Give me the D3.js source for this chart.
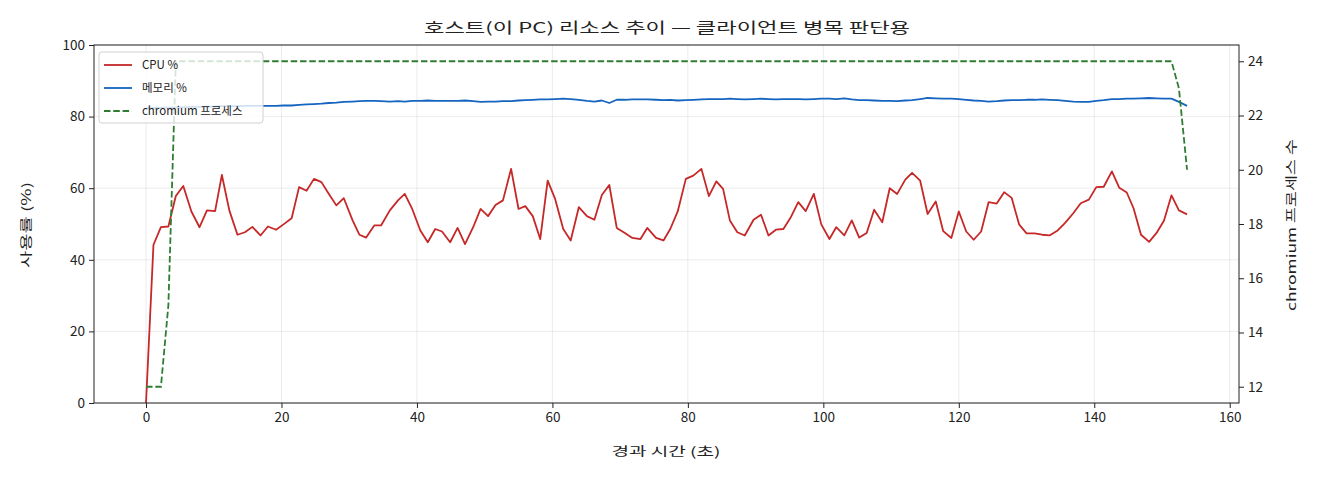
<!DOCTYPE html>
<html>
<head>
<meta charset="utf-8">
<script src="https://cdn.jsdelivr.net/npm/d3@7"></script>
<style>
  body { margin: 0; background: #fff; }
  text { font-family: "Noto Sans CJK KR", "Noto Sans", sans-serif; fill: #222; }
</style>
</head>
<body>
<div id="chart"></div>
<script>
// elapsed seconds
let elapsed = [
  0, 1.1, 2.2, 3.3, 4.4, 5.5, 6.7, 7.9, 9.0, 10.2, 11.2, 12.3, 13.5, 14.6, 15.7, 16.9, 18.0, 19.2, 20.3, 21.5, 22.6, 23.7, 24.8, 25.9, 27.0, 28.1, 29.2,
  30.5, 31.5, 32.5, 33.7, 34.7, 36.0, 37.2, 38.2, 39.3, 40.5, 41.6, 42.7, 43.7, 44.9, 46.0, 47.1, 48.3, 49.4, 50.5, 51.6, 52.7, 53.9, 55.0, 56.0, 57.1, 58.2, 59.3,
  60.4, 61.6, 62.7, 63.9, 65.1, 66.2, 67.3, 68.4, 69.5, 70.7, 71.8, 73.0, 74.0, 75.3, 76.4, 77.4, 78.5, 79.7, 80.8, 82.0, 83.1, 84.2, 85.2, 86.2, 87.3, 88.4,
  89.7, 90.8, 91.9, 93.0, 94.1, 95.2, 96.3, 97.4, 98.6, 99.7, 100.9, 101.9, 103.1, 104.2, 105.3, 106.4, 107.5, 108.7, 109.8, 110.9, 112.1, 113.1, 114.3, 115.4, 116.6, 117.7, 118.9,
  120.0, 121.1, 122.2, 123.3, 124.4, 125.6, 126.7, 127.8, 128.9, 130.0, 131.2, 132.3, 133.4, 134.6, 135.7, 136.9, 138.0, 139.2, 140.3, 141.4, 142.6, 143.7, 144.8, 145.8, 146.9, 148.1, 149.2, 150.3, 151.4, 152.5, 153.7
];

let cpuPct = [
  0, 44.2, 49.1, 49.3, 57.8, 60.6, 53.5, 49.1, 53.8, 53.6, 63.7, 53.8, 47.0, 47.7, 49.2, 46.8, 49.3, 48.4, 49.9, 51.6, 60.3, 59.3, 62.6, 61.7, 58.4, 55.2, 57.2,
  51.0, 47.0, 46.2, 49.6, 49.6, 53.8, 56.6, 58.4, 54.2, 48.2, 44.9, 48.6, 47.9, 44.9, 48.9, 44.4, 49.1, 54.2, 52.2, 55.3, 56.6, 65.4, 54.2, 55.0, 52.2, 45.8, 62.1,
  57.0, 48.6, 45.4, 54.7, 52.2, 51.2, 58.1, 60.9, 48.9, 47.5, 46.1, 45.8, 48.9, 46.1, 45.4, 48.6, 53.5, 62.6, 63.5, 65.4, 57.8, 61.9, 59.8, 51.0, 47.7, 46.8,
  51.2, 52.6, 46.8, 48.4, 48.6, 51.9, 56.1, 53.6, 58.4, 49.9, 45.8, 49.1, 46.8, 51.0, 46.2, 47.5, 54.0, 50.5, 60.0, 58.4, 62.4, 64.3, 62.1, 52.8, 56.3, 48.0, 46.1,
  53.5, 47.9, 45.6, 47.9, 56.1, 55.7, 58.9, 57.3, 49.9, 47.4, 47.4, 47.0, 46.8, 48.2, 50.3, 53.0, 55.8, 56.8, 60.3, 60.4, 64.7, 60.1, 58.8, 54.4, 47.0, 45.0, 47.5, 51.0, 58.0, 53.8, 52.7
];

let memPct = [
  82.3, 82.4, 82.5, 82.5, 82.6, 82.6, 82.7, 82.7, 82.8, 82.8, 82.9, 82.9, 82.9, 83.0, 83.0, 83.0, 83.0, 83.0, 83.1, 83.1, 83.3, 83.4, 83.5, 83.6, 83.8, 83.9, 84.1,
  84.2, 84.3, 84.4, 84.4, 84.3, 84.2, 84.3, 84.2, 84.4, 84.4, 84.5, 84.4, 84.4, 84.4, 84.4, 84.5, 84.3, 84.1, 84.2, 84.2, 84.3, 84.3, 84.5, 84.6, 84.7, 84.8, 84.8,
  84.9, 85.0, 84.9, 84.7, 84.4, 84.2, 84.5, 83.8, 84.7, 84.7, 84.8, 84.8, 84.8, 84.7, 84.6, 84.7, 84.5, 84.6, 84.7, 84.8, 84.9, 84.9, 84.9, 85.0, 84.9, 84.8,
  84.9, 85.0, 84.9, 84.8, 84.9, 84.9, 84.9, 84.8, 84.9, 85.0, 85.0, 84.9, 85.1, 84.8, 84.6, 84.6, 84.5, 84.4, 84.4, 84.3, 84.5, 84.6, 84.9, 85.2, 85.1, 85.0, 85.0,
  84.9, 84.7, 84.5, 84.4, 84.2, 84.3, 84.5, 84.6, 84.6, 84.7, 84.7, 84.8, 84.7, 84.6, 84.4, 84.2, 84.1, 84.1, 84.4, 84.6, 84.9, 84.9, 85.0, 85.0, 85.1, 85.2, 85.1, 85.0, 85.0, 84.1, 83.0
];

let chromiumCount = [
  12, 12, 12, 15,
  24, 24, 24, 24, 24, 24, 24, 24, 24, 24, 24, 24,
  24, 24, 24, 24, 24, 24, 24, 24, 24, 24, 24, 24,
  24, 24, 24, 24, 24, 24, 24, 24, 24, 24, 24, 24,
  24, 24, 24, 24, 24, 24, 24, 24, 24, 24, 24, 24,
  24, 24, 24, 24, 24, 24, 24, 24, 24, 24, 24, 24,
  24, 24, 24, 24, 24, 24, 24, 24, 24, 24, 24, 24,
  24, 24, 24, 24, 24, 24, 24, 24, 24, 24, 24, 24,
  24, 24, 24, 24, 24, 24, 24, 24, 24, 24, 24, 24,
  24, 24, 24, 24, 24, 24, 24, 24, 24, 24, 24, 24,
  24, 24, 24, 24, 24, 24, 24, 24, 24, 24, 24, 24,
  24, 24, 24, 24, 24, 24, 24, 24, 24, 24, 24, 24,
  23, 20
];

let xTicks = [0, 20, 40, 60, 80, 100, 120, 140, 160];
let yTicks = [0, 20, 40, 60, 80, 100];
let y2Ticks = [12, 14, 16, 18, 20, 22, 24];

let seriesNames = ["CPU %", "메모리 %", "chromium 프로세스"];
let titleText = "호스트(이 PC) 리소스 추이 — 클라이언트 병목 판단용";

let width = 1320;
let height = 480;
let margin = ({top: 45, right: 81, bottom: 77, left: 94});

let colors = {cpu: "#c62828", mem: "#1565c0", proc: "#2e7d32"};

let svg = d3.select("#chart")
  .append("svg")
  .attr("width", width)
  .attr("height", height);

let xScale = d3.scaleLinear()
  .domain([-7.68, 161.37])
  .range([margin.left, width - margin.right]);

let yScale = d3.scaleLinear()
  .domain([0, 100])
  .range([height - margin.bottom, margin.top]);

let y2Scale = d3.scaleLinear()
  .domain([11.4, 24.6])
  .range([height - margin.bottom, margin.top]);

// grid
let grid = svg.append("g");
grid.selectAll(".gx")
  .data(xTicks)
  .enter()
  .append("line")
  .attr("x1", d => xScale(d)).attr("x2", d => xScale(d))
  .attr("y1", margin.top).attr("y2", height - margin.bottom)
  .attr("stroke", "#b0b0b0").attr("stroke-opacity", 0.3).attr("stroke-width", 0.8);
grid.selectAll(".gy")
  .data(yTicks)
  .enter()
  .append("line")
  .attr("x1", margin.left).attr("x2", width - margin.right)
  .attr("y1", d => yScale(d)).attr("y2", d => yScale(d))
  .attr("stroke", "#b0b0b0").attr("stroke-opacity", 0.3).attr("stroke-width", 0.8);

// axes
let xAxis = svg.append("g")
  .attr("transform", "translate(0," + (height - margin.bottom) + ")")
  .call(d3.axisBottom(xScale).tickValues(xTicks).tickSize(5).tickPadding(4).tickSizeOuter(0));
let yAxis = svg.append("g")
  .attr("transform", "translate(" + margin.left + ",0)")
  .call(d3.axisLeft(yScale).tickValues(yTicks).tickSize(5).tickPadding(4).tickSizeOuter(0));
let y2Axis = svg.append("g")
  .attr("transform", "translate(" + (width - margin.right) + ",0)")
  .call(d3.axisRight(y2Scale).tickValues(y2Ticks).tickSize(5).tickPadding(4).tickSizeOuter(0));

[xAxis, yAxis, y2Axis].forEach(function(ax) {
  ax.select(".domain").remove();
  ax.selectAll("line").attr("stroke", "#222").attr("stroke-width", 1);
  ax.selectAll("text")
    .style("font-family", '"Noto Sans CJK KR", sans-serif')
    .style("font-size", "13.5px")
    .attr("fill", "#222");
});

// lines
let rows = elapsed.map(function(t, i) {
  return {t: t, cpu: cpuPct[i], mem: memPct[i], proc: chromiumCount[i]};
});

let plot = svg.append("g");

plot.append("path")
  .datum(rows)
  .attr("fill", "none")
  .attr("stroke", colors.cpu)
  .attr("stroke-width", 1.8)
  .attr("stroke-linejoin", "round")
  .attr("d", d3.line().x(d => xScale(d.t)).y(d => yScale(d.cpu)));

plot.append("path")
  .datum(rows)
  .attr("fill", "none")
  .attr("stroke", colors.mem)
  .attr("stroke-width", 1.8)
  .attr("stroke-linejoin", "round")
  .attr("d", d3.line().x(d => xScale(d.t)).y(d => yScale(d.mem)));

plot.append("path")
  .datum(rows)
  .attr("fill", "none")
  .attr("stroke", colors.proc)
  .attr("stroke-width", 1.8)
  .attr("stroke-dasharray", "6.5,2.8")
  .attr("d", d3.line().x(d => xScale(d.t)).y(d => y2Scale(d.proc)));

// frame
svg.append("rect")
  .attr("x", margin.left)
  .attr("y", margin.top)
  .attr("width", width - margin.left - margin.right)
  .attr("height", height - margin.top - margin.bottom)
  .attr("fill", "none")
  .attr("stroke", "#222")
  .attr("stroke-width", 1);

// legend
let legend = svg.append("g").attr("transform", "translate(99,52)");
legend.append("rect")
  .attr("width", 164).attr("height", 71)
  .attr("rx", 3)
  .attr("fill", "#fff").attr("fill-opacity", 0.8)
  .attr("stroke", "#d0d0d0").attr("stroke-width", 1);

let legendStyle = [
  {c: colors.cpu, dash: null},
  {c: colors.mem, dash: null},
  {c: colors.proc, dash: "6.5,2.8"}
];

legend.selectAll(".key")
  .data(seriesNames)
  .enter()
  .append("line")
  .attr("x1", 5).attr("x2", 33)
  .attr("y1", (d, i) => 13 + i * 23).attr("y2", (d, i) => 13 + i * 23)
  .attr("stroke", (d, i) => legendStyle[i].c)
  .attr("stroke-width", 1.8)
  .attr("stroke-dasharray", (d, i) => legendStyle[i].dash);

legend.selectAll(".key_labels")
  .data(seriesNames)
  .enter()
  .append("text")
  .attr("x", 43)
  .attr("y", (d, i) => 17 + i * 23)
  .text(d => d)
  .style("font-size", "11.5px");

// titles (reference font is wider, so stretch glyphs to the same width)
svg.append("text")
  .attr("x", 667)
  .attr("y", 33)
  .attr("text-anchor", "middle")
  .attr("textLength", 486)
  .attr("lengthAdjust", "spacingAndGlyphs")
  .style("font-size", "14.5px")
  .text(titleText);

svg.append("text")
  .attr("x", 666)
  .attr("y", 456)
  .attr("text-anchor", "middle")
  .attr("textLength", 109)
  .attr("lengthAdjust", "spacingAndGlyphs")
  .style("font-size", "12.5px")
  .text("경과 시간 (초)");

svg.append("text")
  .attr("transform", "translate(31,225) rotate(-90)")
  .attr("text-anchor", "middle")
  .attr("textLength", 86)
  .attr("lengthAdjust", "spacingAndGlyphs")
  .style("font-size", "12.5px")
  .text("사용률 (%)");

svg.append("text")
  .attr("transform", "translate(1296,225) rotate(-90)")
  .attr("text-anchor", "middle")
  .attr("textLength", 172)
  .attr("lengthAdjust", "spacingAndGlyphs")
  .style("font-size", "12.5px")
  .text("chromium 프로세스 수");
</script>
</body>
</html>
